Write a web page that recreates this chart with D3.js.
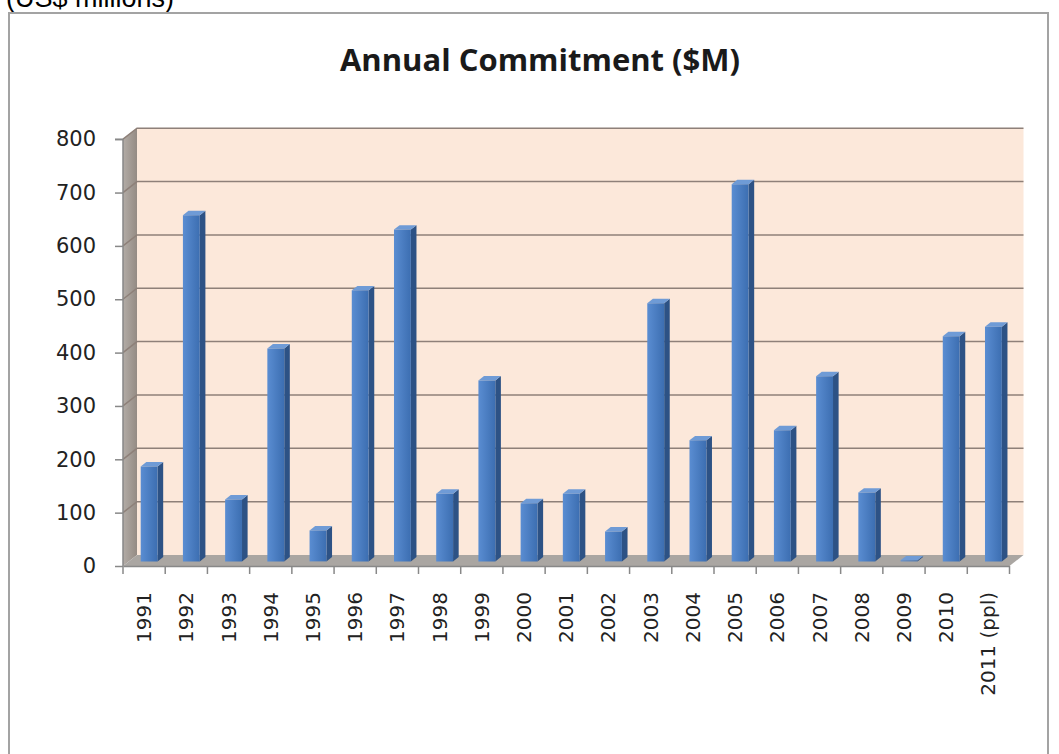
<!DOCTYPE html>
<html>
<head>
<meta charset="utf-8">
<script src="https://cdn.jsdelivr.net/npm/d3@7"></script>
<style>
  html, body { margin: 0; padding: 0; background: #fff; }
  svg { display: block; }
  .tick text { font-family: "DejaVu Sans", Verdana, sans-serif; fill: #222; }
</style>
</head>
<body>
<svg id="chart" width="1059" height="754"></svg>
<script>
// ── Data ─────────────────────────────────────────────────────────────────────
const YEARS  = ["1991","1992","1993","1994","1995","1996","1997","1998","1999","2000",
                "2001","2002","2003","2004","2005","2006","2007","2008","2009","2010","2011 (ppl)"];
const VALUES = [178, 649, 116, 399, 58, 508, 622, 127, 339, 109,
                127, 56, 484, 227, 707, 246, 347, 129, 2, 422, 440];
const Y_TICKS = [0, 100, 200, 300, 400, 500, 600, 700, 800];
const TITLE = "Annual Commitment ($M)";
const UNIT  = "(US$ millions)";

const svg = d3.select("#chart");

// 3D depth offset (front plane -> back wall)
const DX = 14, DY = -11;

const x = d3.scaleBand().domain(YEARS).range([123, 1009.5]).padding(0);
const y = d3.scaleLinear().domain([0, 800]).range([566, 139.2]);

const P = (xf, v, z) => [xf + z * DX, y(v) + z * DY];
const poly = pts => "M" + pts.map(p => p.join(",")).join("L") + "Z";

// Gradients
const defs = svg.append("defs");
const gFront = defs.append("linearGradient").attr("id", "barFront");
gFront.append("stop").attr("offset", "0%").attr("stop-color", "#5a8dd2");
gFront.append("stop").attr("offset", "100%").attr("stop-color", "#3c6eb1");
const gWall = defs.append("linearGradient").attr("id", "leftWall");
gWall.append("stop").attr("offset", "0%").attr("stop-color", "#b3aca6");
gWall.append("stop").attr("offset", "100%").attr("stop-color", "#948b84");

// Unit note (cut off at the top, as in the source)
svg.append("text")
  .attr("x", 6).attr("y", 7)
  .attr("font-family", "'Liberation Sans', Arial, sans-serif")
  .attr("font-size", 27).attr("fill", "#000")
  .text(UNIT);

// Chart frame
svg.append("rect")
  .attr("x", 9).attr("y", 13).attr("width", 1039).attr("height", 770)
  .attr("fill", "#fff").attr("stroke", "#a3a3a3").attr("stroke-width", 2);

// Title
svg.append("text")
  .attr("x", 540).attr("y", 71)
  .attr("text-anchor", "middle")
  .attr("font-family", "'Open Sans', Lato, sans-serif")
  .attr("font-weight", "bold").attr("font-size", 31).attr("fill", "#1a1a1a")
  .text(TITLE);

const x0 = x.range()[0], x1 = x.range()[1];

// Back wall
svg.append("path")
  .attr("d", poly([P(x0, 0, 1), P(x1, 0, 1), P(x1, 800, 1), P(x0, 800, 1)]))
  .attr("fill", "#fce8da");

// Left wall
svg.append("path")
  .attr("d", poly([P(x0, 0, 0), P(x0, 0, 1), P(x0, 800, 1), P(x0, 800, 0)]))
  .attr("fill", "url(#leftWall)");

// Gridlines on back wall + left wall
svg.append("g").selectAll("path.grid")
  .data(Y_TICKS.filter(d => d > 0))
  .join("path").attr("class", "grid")
  .attr("d", d => "M" + P(x0, d, 0).join(",") + "L" + P(x0, d, 1).join(",") + "L" + P(x1, d, 1).join(","))
  .attr("fill", "none").attr("stroke", "#8e8079").attr("stroke-width", 1.5);

// Floor
svg.append("path")
  .attr("d", poly([P(x0, 0, 0), P(x1, 0, 0), P(x1, 0, 1), P(x0, 0, 1)]))
  .attr("fill", "#aaa6a2");

// Bars (3D columns)
const Z1 = 0.42, Z2 = 0.82;
const bars = svg.append("g").selectAll("g.bar")
  .data(YEARS.map((k, i) => ({ year: k, value: VALUES[i] })))
  .join("g").attr("class", "bar");

bars.each(function(d) {
  const g = d3.select(this);
  const bx = x(d.year) + x.bandwidth() * 0.28;
  const bw = x.bandwidth() * 0.4;
  g.append("path")
    .attr("d", poly([P(bx + bw, 0, Z1), P(bx + bw, 0, Z2), P(bx + bw, d.value, Z2), P(bx + bw, d.value, Z1)]))
    .attr("fill", "#2d5285");
  g.append("path")
    .attr("d", poly([P(bx, d.value, Z1), P(bx + bw, d.value, Z1), P(bx + bw, d.value, Z2), P(bx, d.value, Z2)]))
    .attr("fill", "#6f9bd6");
  g.append("path")
    .attr("d", poly([P(bx, 0, Z1), P(bx + bw, 0, Z1), P(bx + bw, d.value, Z1), P(bx, d.value, Z1)]))
    .attr("fill", "url(#barFront)");
});

// Y axis
const yAxis = svg.append("g").attr("transform", `translate(${x0},0)`)
  .call(d3.axisLeft(y).tickValues(Y_TICKS).tickSize(8).tickPadding(19));
yAxis.selectAll("text").attr("font-size", 21);
yAxis.selectAll("line, path").attr("stroke", "#888").attr("stroke-width", 1.5);
yAxis.select(".domain").attr("d", `M-8,${y(800)}H0V${y(0)}`);

// X axis: labels at band centres, tick marks at band boundaries
const xAxis = svg.append("g").attr("transform", `translate(0,${y(0)})`)
  .call(d3.axisBottom(x).tickSize(0).tickPadding(0));
xAxis.select(".domain").attr("stroke", "#888").attr("stroke-width", 1.5);
xAxis.selectAll("text")
  .attr("font-size", 20)
  .attr("transform", "rotate(-90)")
  .attr("text-anchor", "end")
  .attr("x", -26).attr("y", 0).attr("dy", "0.35em");

xAxis.append("g").selectAll("line")
  .data(YEARS.map(k => x(k)).concat([x1]))
  .join("line")
  .attr("x1", d => d).attr("x2", d => d)
  .attr("y1", 0).attr("y2", 8)
  .attr("stroke", "#888").attr("stroke-width", 1.5);
</script>
</body>
</html>
